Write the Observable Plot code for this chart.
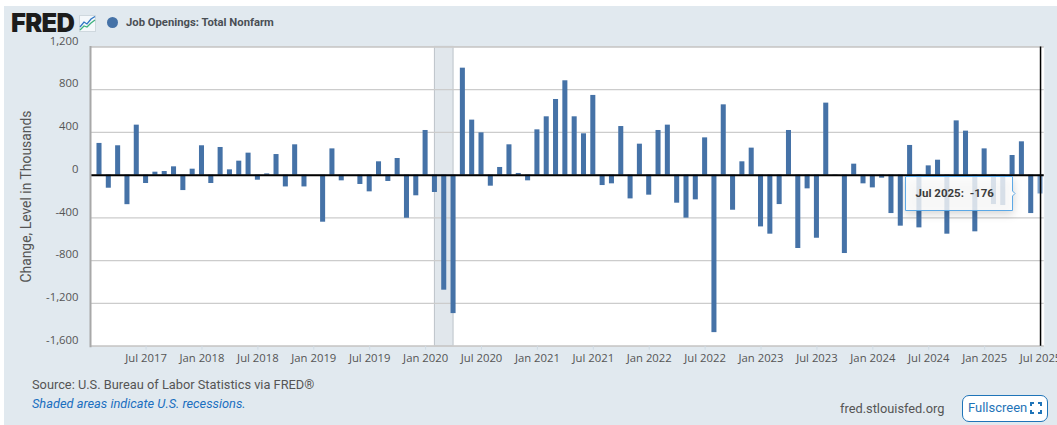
<!DOCTYPE html>
<html><head><meta charset="utf-8">
<script src="https://cdn.jsdelivr.net/npm/d3@7"></script>
<script src="https://cdn.jsdelivr.net/npm/@observablehq/plot@0.6"></script>
<style>
html,body{margin:0;padding:0;background:#fff;overflow:hidden}
#page{position:relative;width:1057px;height:425px;overflow:hidden;font-family:Roboto,sans-serif}
#panel{position:absolute;left:4px;top:6px;right:0;bottom:0;background:#e1e9ef}
#chart{position:absolute;left:0;top:0}
#chart svg{background:transparent;display:block}
.abs{position:absolute;white-space:nowrap}
#logo{left:11px;top:13px;font:900 25.5px/20px Inter,Roboto,sans-serif;color:#1c1c1c;letter-spacing:-0.7px}
#icon{left:79px;top:15px}
#dot{left:107px;top:17px;width:11px;height:11px;border-radius:50%;background:#4572a7}
#series{left:126px;top:16px;font:700 11.25px/14px Roboto,sans-serif;color:#4a4f55}
#source{left:32px;top:377px;font:12.8px/16px Roboto,sans-serif;color:#555}
#shaded{left:32px;top:396px;font:italic 12.8px/16px Roboto,sans-serif;color:#1a6fc0}
#site{left:840px;top:401px;font:12.8px/16px Roboto,sans-serif;color:#555}
#full{left:962px;top:395px;height:25px;width:79px;border:1px solid #1f74b8;border-radius:7px;background:#fff;color:#1f74b8;font:13px/24px Roboto,sans-serif;padding-left:5px}
#full svg{position:absolute;left:67px;top:6px}
g[aria-label="tip"]{filter:none!important}
g[aria-label="tip"] path{stroke:#5ca8e6!important;stroke-width:1px}
g[aria-label="tip"] text{fill:#3c3c3c!important}
</style></head>
<body>
<div id="page">
<div id="panel"></div>
<div id="chart" class="abs"></div>
<div id="logo" class="abs">FRED</div>
<svg id="icon" class="abs" width="17" height="17" viewBox="0 0 17 17"><rect x=".5" y=".5" width="16" height="16" fill="#f4f8fb" stroke="#cfd8de"/><path d="M1 12 L5 7 L8 9 L12 4 L16 1.5" fill="none" stroke="#2f77c4" stroke-width="1.3"/><path d="M1 15 L5 11 L8 12 L12 8 L16 5" fill="none" stroke="#3fb27f" stroke-width="1.3"/></svg>
<div id="dot" class="abs"></div>
<div id="series" class="abs">Job Openings: Total Nonfarm</div>
<div id="source" class="abs">Source: U.S. Bureau of Labor Statistics via FRED®</div>
<div id="shaded" class="abs">Shaded areas indicate U.S. recessions.</div>
<div id="site" class="abs">fred.stlouisfed.org</div>
<div id="full" class="abs">Fullscreen<svg width="12" height="12" viewBox="0 0 12 12"><path d="M1 4V1H4M8 1H11V4M11 8V11H8M4 11H1V8" fill="none" stroke="#1f74b8" stroke-width="2"/></svg></div>
</div>
<script>
const firstMonth = "2017-02-01";
const lastMonth = "2025-07-01";
const values = [
 297,-122,275,-276,468,-78,28,34,78,-144,56,275,-78,259,50,131,206,-47,12,193,-110,284,-110,0,
 -440,246,-53,0,-87,-156,125,-59,156,-403,-193,418,-162,-1076,-1295,1001,515,396,-103,72,284,16,-53,424,
 546,708,883,546,387,746,-97,-81,455,-222,290,-187,418,468,-262,-402,-231,349,-1473,658,-328,125,253,-484,
 -552,-275,418,-686,-128,-590,674,-12,-733,103,-81,-119,-28,-359,-477,278,-493,87,140,-552,508,412,-530,246,
 -275,-284,184,312,-359,-176
];
const yTicks = [-1600,-1200,-800,-400,0,400,800,1200];
const yEdges = [-1600,1200];
const tickLabels = ["Jul 2017","Jan 2018","Jul 2018","Jan 2019","Jul 2019","Jan 2020","Jul 2020","Jan 2021","Jul 2021","Jan 2022","Jul 2022","Jan 2023","Jul 2023","Jan 2024","Jul 2024","Jan 2025","Jul 2025"];
const recession = {start:"2020-02-01", end:"2020-04-01"};
const yTitle = "Change, Level in Thousands";

const fmtM = d3.utcFormat("%b %Y");
const fmtV = v => d3.format(",")(v).replace("\u2212","-");
const months = d3.utcMonths(new Date(firstMonth), d3.utcMonth.offset(new Date(lastMonth),1));
const rows = months.map((date,i)=>({date,v:values[i]}));
const byLabel = new Map(months.map(m=>[fmtM(m),m]));
const xTicks = tickLabels.map(l=>byLabel.get(l));
const last = rows[rows.length-1];
const blue = "#4572a7", hover = "#7ba0cb";
const axisFont = "'Open Sans',sans-serif";

const plot = Plot.plot({
  width:1057, height:375,
  marginLeft:90, marginRight:13.3, marginTop:46.4, marginBottom:29.3,
  style:{background:"transparent",overflow:"hidden"},
  x:{type:"band",domain:months,paddingInner:0.46,paddingOuter:0.23,insetLeft:4.34,insetRight:-1,label:null},
  y:{domain:yEdges,label:null},
  marks:[
    Plot.frame({fill:"#fff",stroke:null}),
    Plot.rect([recession],{x1:d=>new Date(d.start),x2:d=>new Date(d.end),y1:yEdges[0],y2:yEdges[1],insetLeft:2.5,insetRight:2.5,fill:"#e1e7ec",stroke:"#bcc3c9",strokeWidth:1}),
    Plot.ruleY(yTicks,{stroke:"#cccccc",strokeWidth:1.2}),
    Plot.ruleY(yEdges,{stroke:"#cccccc",strokeWidth:1.8}),
    Plot.axisX({ticks:xTicks,tickFormat:fmtM,tickSize:4,stroke:"#cfdae3",color:"#555",fontSize:11.3,fontFamily:axisFont,tickPadding:4,label:null,textStroke:"none"}),
    Plot.axisY({ticks:yTicks,tickFormat:fmtV,tickSize:0,tickPadding:12,dy:-6,fontSize:11.3,fontFamily:axisFont,color:"#555",label:null}),
    Plot.text([yTitle],{frameAnchor:"left",textAnchor:"middle",dx:-64,rotate:-90,fontSize:13.9,fontFamily:"Roboto,sans-serif",fill:"#555"}),
    Plot.barY(rows.slice(0,-1),{x:"date",y:"v",fill:blue}),
    Plot.barY([last],{x:"date",y:"v",fill:hover}),
    Plot.ruleX([last],{x:"date",stroke:"#000",strokeWidth:1.5}),
    Plot.ruleY([0],{stroke:"#000",strokeWidth:2}),
    Plot.frame({anchor:"left",stroke:"#a8a8a8",strokeWidth:2}),
    Plot.tip([last],{x:"date",y:"v",anchor:"right",dx:-26,title:d=>`${fmtM(d.date)}:  ${fmtV(d.v)}\u00a0\u00a0\u00a0`,fill:"#fff",fillOpacity:0.8,stroke:"#5ca8e6",pointerSize:5,fontSize:11.5,fontWeight:"bold",fontFamily:"Roboto,sans-serif",textPadding:10})
  ]
});
document.getElementById("chart").append(plot);
</script>
</body></html>
